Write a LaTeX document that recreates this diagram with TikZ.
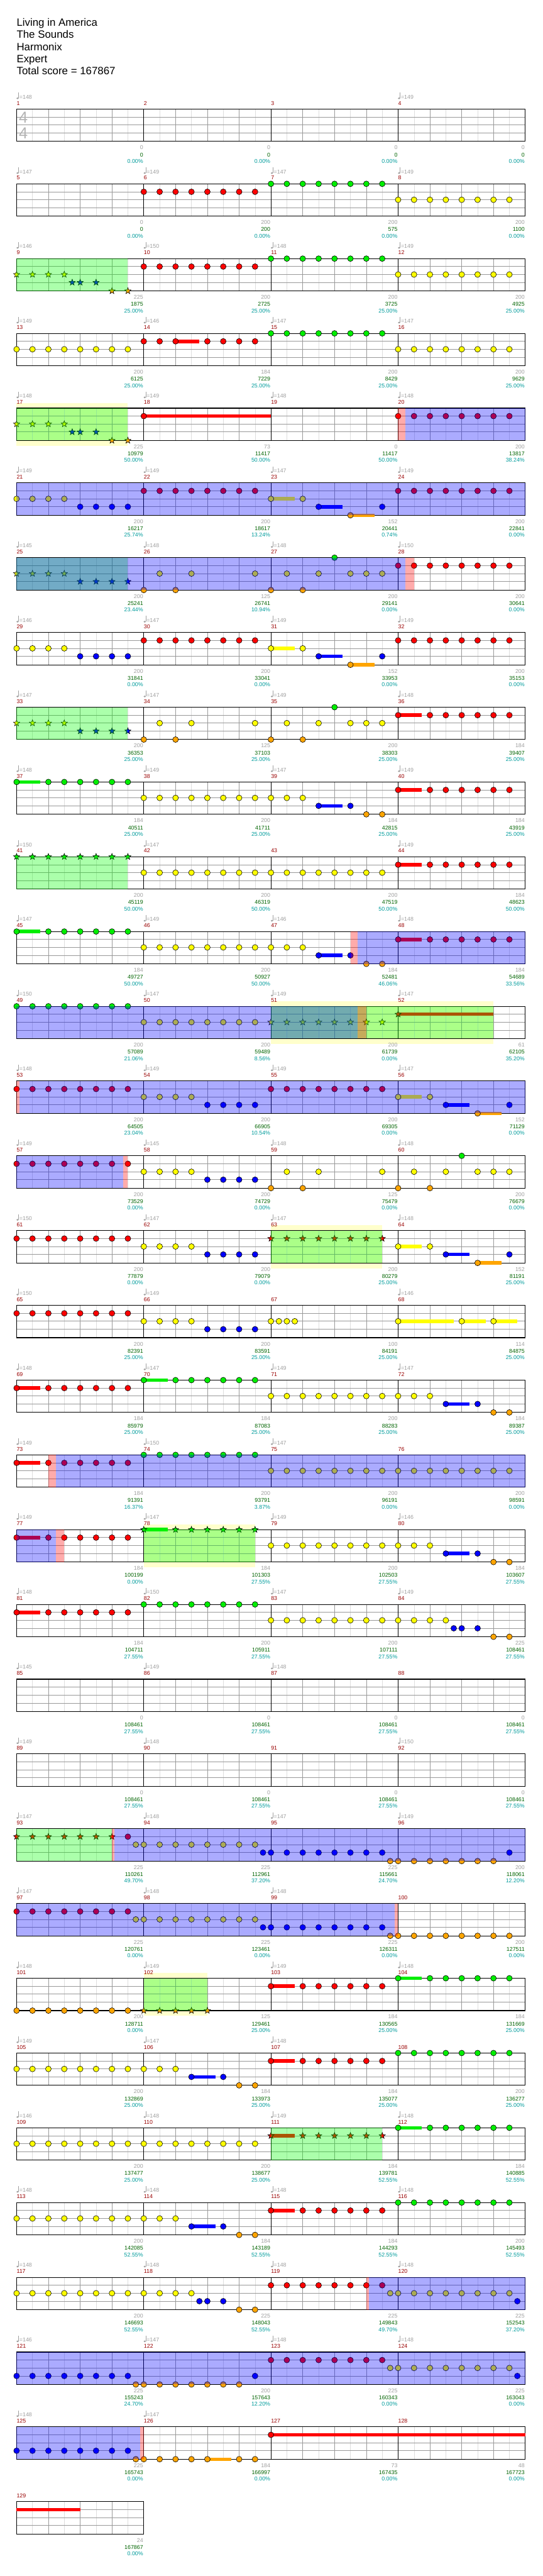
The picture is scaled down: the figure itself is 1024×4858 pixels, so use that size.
\documentclass[tikz,border=0pt]{standalone}
\usepackage{fontspec}
\setmainfont{Liberation Sans}
\usetikzlibrary{positioning}
\definecolor{gemgreen}{HTML}{00EE00}
\definecolor{gemred}{HTML}{FF0000}
\definecolor{gemyellow}{HTML}{FFFF00}
\definecolor{gemblue}{HTML}{0000FF}
\definecolor{gemorange}{HTML}{FFA500}
\definecolor{barnum}{HTML}{990000}
\definecolor{labgray}{HTML}{A0A0A0}
\definecolor{scoregreen}{HTML}{006400}
\definecolor{pctcyan}{HTML}{009C9C}
\definecolor{spyellow}{HTML}{FFFFCC}
\definecolor{gridlt}{HTML}{DDDDDD}
\definecolor{gridmd}{HTML}{999999}
\definecolor{tsgray}{HTML}{B4B4B4}

\tikzset{
  gem/.style={draw=black, line width=0.7pt},
  gridlight/.style={draw=gridlt, line width=0.6pt},
  gridbeat/.style={draw=gridmd, line width=0.8pt},
  staffline/.style={draw=gridmd, line width=1pt},
  barline/.style={draw=black, line width=0.8pt},
  staffbox/.style={draw=black, line width=1.3pt},
  odzone/.style={fill=blue, fill opacity=0.33},
  spzone/.style={fill=green, fill opacity=0.33},
  hitzone/.style={fill=red, fill opacity=0.33},
  spband/.style={fill=spyellow},
  lbl/.style={font=\fontsize{10.5}{12}\selectfont, inner sep=0pt},
  headline/.style={font=\fontsize{20}{24}\selectfont, inner sep=0pt, anchor=base west},
}

% measure origin: \mx left edge, \my staff top
\newcommand{\setmeas}[1]{%
  \pgfmathtruncatemacro\mr{div(#1-1,4)}%
  \pgfmathtruncatemacro\mc{mod(#1-1,4)}%
  \pgfmathsetmacro\mx{31.3+240*\mc}%
  \pgfmathsetmacro\my{205.7+141*\mr}}
\newcommand{\setlane}[1]{\edef\lc{\ifcase\numexpr#1\relax gemgreen\or gemred\or gemyellow\or gemblue\or gemorange\fi}}
\newcommand{\drawstar}[2]{\draw[gem, fill=\lc] (#1,#2) +(-90:6.2) -- +(-54:2.6) -- +(-18:6.2) -- +(18:2.6) -- +(54:6.2) -- +(90:2.6) -- +(126:6.2) -- +(162:2.6) -- +(198:6.2) -- +(234:2.6) -- cycle;}

% single gems: measure, {pos/lane/sustain,...}
\newcommand{\gemlist}[2]{%
  \setmeas{#1}%
  \foreach \p/\l/\s in {#2}{%
    \setlane{\l}%
    \pgfmathsetmacro\gx{\mx+30*\p}%
    \pgfmathsetmacro\gy{\my+15*\l+(\l>3)}%
    \ifdim\s pt>0pt \fill[\lc] (\gx,\gy-3.3) rectangle ++(30*\s,6.6);\fi
    \draw[gem, fill=\lc] (\gx,\gy) circle [radius=5.4];
  }}
\newcommand{\starlist}[2]{%
  \setmeas{#1}%
  \foreach \p/\l/\s in {#2}{%
    \setlane{\l}%
    \pgfmathsetmacro\gx{\mx+30*\p}%
    \pgfmathsetmacro\gy{\my+15*\l+(\l>3)}%
    \ifdim\s pt>0pt \fill[\lc] (\gx,\gy-3.3) rectangle ++(30*\s,6.6);\fi
    \drawstar{\gx}{\gy}
  }}
% runs of eighths: measure, lane, first, last
\newcommand{\gemrun}[4]{%
  \setmeas{#1}\setlane{#2}%
  \foreach \p in {#3,...,#4}{%
    \pgfmathsetmacro\gx{\mx+30*\p}%
    \pgfmathsetmacro\gy{\my+15*#2+(#2>3)}%
    \draw[gem, fill=\lc] (\gx,\gy) circle [radius=5.4];
  }}
\newcommand{\starrun}[4]{%
  \setmeas{#1}\setlane{#2}%
  \foreach \p in {#3,...,#4}{%
    \pgfmathsetmacro\gx{\mx+30*\p}%
    \pgfmathsetmacro\gy{\my+15*#2+(#2>3)}%
    \drawstar{\gx}{\gy}
  }}
% staff row: row, number of measures
\newcommand{\staffrow}[2]{%
  \pgfmathsetmacro\sy{205.7+141*#1}%
  \pgfmathsetmacro\sx{31.3+240*#2}%
  \pgfmathtruncatemacro\nk{8*#2-1}%
  \pgfmathtruncatemacro\nb{4*#2-1}%
  \foreach \k in {1,...,\nk} \draw[gridlight] (31.3+30*\k,\sy) -- ++(0,61);
  \foreach \k in {1,...,\nb} \draw[gridbeat] (31.3+60*\k,\sy) -- ++(0,61);
  \foreach \k in {15,30,45} \draw[staffline] (31.3,\sy+\k) -- (\sx,\sy+\k);
  \ifnum#2>1 \foreach \k in {2,...,#2} \draw[barline] (31.3+240*\k-240,\sy) -- ++(0,61);\fi
  \draw[staffbox] (31.3,\sy) rectangle (\sx,\sy+61);}
\newcommand{\zone}[4]{\pgfmathsetmacro\zy{205.7+141*#1}\fill[#4] (#2,\zy) rectangle (#3,\zy+61);}
\newcommand{\bandrow}[3]{\pgfmathsetmacro\zy{205.7+141*#1}\fill[spband] (#2,\zy-10) rectangle (#3,\zy+71);}

\begin{document}
\begin{tikzpicture}[x=1pt, y=-1pt, line cap=butt]
\useasboundingbox[fill=white] (0,0) rectangle (1024,4858);

% Title block
\node[headline] (song) at (31.3,49) {Living in America};
\node[headline] (band) at (31.3,72) {The Sounds};
\node[headline] (studio) at (31.3,95) {Harmonix};
\node[headline] (level) at (31.3,118) {Expert};
\node[headline] (total) at (31.3,141) {Total score = 167867};

% Star power bands behind the staff
\bandrow{4}{31.3}{241.3}
\bandrow{12}{511.3}{931.3}
\bandrow{15}{511.3}{721.3}
\bandrow{19}{271.3}{481.3}
\bandrow{25}{271.3}{391.3}

% Staff rows
\foreach \r in {0,...,31} {\staffrow{\r}{4}}
\staffrow{32}{1}

% Time signature
\node[font=\fontsize{30}{30}\selectfont, text=tsgray, inner sep=0pt] (tsup) at (44,221.7) {4};
\node[font=\fontsize{30}{30}\selectfont, text=tsgray, inner sep=0pt] (tsdown) at (44,250.7) {4};

% Gems (lanes: 0 green, 1 red, 2 yellow, 3 blue, 4 orange)
\gemrun{6}{1}{0}{7} \gemrun{7}{0}{0}{7} \gemrun{8}{2}{0}{7}
\starrun{9}{2}{0}{3} \starlist{9}{3.5/3/0,4/3/0,5/3/0,6/4/0,7/4/0}
\gemrun{10}{1}{0}{7} \gemrun{11}{0}{0}{7} \gemrun{12}{2}{0}{7}
\gemrun{13}{2}{0}{7}
\gemlist{14}{0/1/0,1/1/0,2/1/1.5,4/1/0,5/1/0,6/1/0,7/1/0}
\gemrun{15}{0}{0}{7} \gemrun{16}{2}{0}{7}
\starrun{17}{2}{0}{3} \starlist{17}{3.5/3/0,4/3/0,5/3/0,6/4/0,7/4/0}
\gemlist{18}{0/1/8}
\gemrun{20}{1}{0}{7}
\gemrun{21}{2}{0}{3} \gemrun{21}{3}{4}{7}
\gemrun{22}{1}{0}{7}
\gemlist{23}{0/2/1.5,2/2/0,3/3/1.5,5/4/1.5,7/3/0}
\gemrun{24}{1}{0}{7}
\starrun{25}{2}{0}{3} \starrun{25}{3}{4}{7}
\gemlist{26}{0/4/0,1/2/0,2/4/0,3/2/0,7/2/0}
\gemlist{27}{0/4/0,1/2/0,2/4/0,3/2/0,4/0/0,5/2/0,6/2/0,7/2/0}
\gemrun{28}{1}{0}{7}
\gemrun{29}{2}{0}{3} \gemrun{29}{3}{4}{7}
\gemrun{30}{1}{0}{7}
\gemlist{31}{0/2/1.5,2/2/0,3/3/1.5,5/4/1.5,7/3/0}
\gemrun{32}{1}{0}{7}
\starrun{33}{2}{0}{3} \starrun{33}{3}{4}{7}
\gemlist{34}{0/4/0,1/2/0,2/4/0,3/2/0,7/2/0}
\gemlist{35}{0/4/0,1/2/0,2/4/0,3/2/0,4/0/0,5/2/0,6/2/0,7/2/0}
\gemlist{36}{0/1/1.5} \gemrun{36}{1}{2}{7}
\gemlist{37}{0/0/1.5} \gemrun{37}{0}{2}{7}
\gemrun{38}{2}{0}{7}
\gemlist{39}{0/2/0,1/2/0,2/2/0,3/3/1.5,5/3/0,6/4/0,7/4/0}
\gemlist{40}{0/1/1.5} \gemrun{40}{1}{2}{7}
\starrun{41}{0}{0}{7}
\gemrun{42}{2}{0}{7} \gemrun{43}{2}{0}{7}
\gemlist{44}{0/1/1.5} \gemrun{44}{1}{2}{7}
\gemlist{45}{0/0/1.5} \gemrun{45}{0}{2}{7}
\gemrun{46}{2}{0}{7}
\gemlist{47}{0/2/0,1/2/0,2/2/0,3/3/1.5,5/3/0,6/4/0,7/4/0}
\gemlist{48}{0/1/1.5} \gemrun{48}{1}{2}{7}
\gemrun{49}{0}{0}{7} \gemrun{50}{2}{0}{7}
\starrun{51}{2}{0}{7} \starlist{52}{0/1/6}
\gemrun{53}{1}{0}{7}
\gemrun{54}{2}{0}{3} \gemrun{54}{3}{4}{7}
\gemrun{55}{1}{0}{7}
\gemlist{56}{0/2/1.5,2/2/0,3/3/1.5,5/4/1.5,7/3/0}
\gemrun{57}{1}{0}{7}
\gemrun{58}{2}{0}{3} \gemrun{58}{3}{4}{7}
\gemlist{59}{0/4/0,1/2/0,2/4/0,3/2/0,7/2/0}
\gemlist{60}{0/4/0,1/2/0,2/4/0,3/2/0,4/0/0,5/2/0,6/2/0,7/2/0}
\gemrun{61}{1}{0}{7}
\gemrun{62}{2}{0}{3} \gemrun{62}{3}{4}{7}
\starrun{63}{1}{0}{7}
\gemlist{64}{0/2/1.5,2/2/0,3/3/1.5,5/4/1.5,7/3/0}
\gemrun{65}{1}{0}{7}
\gemrun{66}{2}{0}{3} \gemrun{66}{3}{4}{7}
\gemlist{67}{0/2/0,0.5/2/0,1/2/0,1.5/2/0}
\gemlist{68}{0/2/3.5,4/2/1.5,6/2/1.5}
\gemlist{69}{0/1/1.5} \gemrun{69}{1}{2}{7}
\gemlist{70}{0/0/1.5} \gemrun{70}{0}{2}{7}
\gemrun{71}{2}{0}{7}
\gemlist{72}{0/2/0,1/2/0,2/2/0,3/3/1.5,5/3/0,6/4/0,7/4/0}
\gemlist{73}{0/1/1.5} \gemrun{73}{1}{2}{7}
\gemrun{74}{0}{0}{7} \gemrun{75}{2}{0}{7} \gemrun{76}{2}{0}{7}
\gemlist{77}{0/1/1.5} \gemrun{77}{1}{2}{7}
\starlist{78}{0/0/1.5} \starrun{78}{0}{2}{7}
\gemrun{79}{2}{0}{7}
\gemlist{80}{0/2/0,1/2/0,2/2/0,3/3/1.5,5/3/0,6/4/0,7/4/0}
\gemlist{81}{0/1/1.5} \gemrun{81}{1}{2}{7}
\gemrun{82}{0}{0}{7} \gemrun{83}{2}{0}{7}
\gemlist{84}{0/2/0,1/2/0,2/2/0,3/2/0,3.5/3/0,4/3/0,5/3/0,6/4/0,7/4/0}
\starrun{93}{1}{0}{6} \gemlist{93}{7/1/0,7.5/2/0}
\gemrun{94}{2}{0}{7} \gemlist{94}{7.5/3/0}
\gemrun{95}{3}{0}{7} \gemlist{95}{7.5/4/0}
\gemrun{96}{4}{0}{6} \gemlist{96}{7/3/0}
\gemrun{97}{1}{0}{7} \gemlist{97}{7.5/2/0}
\gemrun{98}{2}{0}{7} \gemlist{98}{7.5/3/0}
\gemrun{99}{3}{0}{7} \gemlist{99}{7.5/4/0}
\gemrun{100}{4}{0}{7}
\gemrun{101}{4}{0}{7}
\starrun{102}{4}{0}{4}
\gemlist{103}{0/1/1.5} \gemrun{103}{1}{2}{7}
\gemlist{104}{0/0/1.5} \gemrun{104}{0}{2}{7}
\gemrun{105}{2}{0}{7}
\gemlist{106}{0/2/0,1/2/0,2/2/0,3/3/1.5,5/3/0,6/4/0,7/4/0}
\gemlist{107}{0/1/1.5} \gemrun{107}{1}{2}{7}
\gemrun{108}{0}{0}{7}
\gemrun{109}{2}{0}{7} \gemrun{110}{2}{0}{7}
\starlist{111}{0/1/1.5} \starrun{111}{1}{2}{7}
\gemlist{112}{0/0/1.5} \gemrun{112}{0}{2}{7}
\gemrun{113}{2}{0}{7}
\gemlist{114}{0/2/0,1/2/0,2/2/0,3/3/1.5,5/3/0,6/4/0,7/4/0}
\gemlist{115}{0/1/1.5} \gemrun{115}{1}{2}{7}
\gemrun{116}{0}{0}{7}
\gemrun{117}{2}{0}{7}
\gemlist{118}{0/2/0,1/2/0,2/2/0,3/2/0,3.5/3/0,4/3/0,5/3/0,6/4/0,7/4/0}
\gemrun{119}{1}{0}{7} \gemlist{119}{7.5/2/0}
\gemrun{120}{2}{0}{7} \gemlist{120}{7.5/3/0}
\gemrun{121}{3}{0}{7} \gemlist{121}{7.5/4/0}
\gemrun{122}{4}{0}{6} \gemlist{122}{7/3/0}
\gemrun{123}{1}{0}{7} \gemlist{123}{7.5/2/0}
\gemrun{124}{2}{0}{7} \gemlist{124}{7.5/3/0}
\gemrun{125}{3}{0}{7} \gemlist{125}{7.5/4/0}
\gemlist{126}{0/4/0,1/4/0,2/4/0,3/4/0,4/4/1.5,6/4/0,7/4/0}
\gemlist{127}{0/1/16}
\fill[gemred] (31.3,4729.4) rectangle ++(120,6.6);

% Star power and overdrive zones
\zone{2}{31.3}{241.3}{spzone}
\zone{4}{31.3}{241.3}{spzone}
\zone{6}{31.3}{241.3}{spzone}
\zone{8}{31.3}{241.3}{spzone}
\zone{10}{31.3}{241.3}{spzone}
\zone{12}{511.3}{931.3}{spzone}
\zone{15}{511.3}{721.3}{spzone}
\zone{19}{271.3}{481.3}{spzone}
\zone{23}{31.3}{211.3}{spzone}
\zone{25}{271.3}{391.3}{spzone}
\zone{27}{511.3}{721.3}{spzone}
\zone{4}{765}{991.3}{odzone}
\zone{5}{31.3}{991.3}{odzone}
\zone{6}{31.3}{765}{odzone}
\zone{11}{675}{991.3}{odzone}
\zone{12}{31.3}{675}{odzone}
\zone{13}{37}{991.3}{odzone}
\zone{14}{31.3}{233}{odzone}
\zone{18}{105}{991.3}{odzone}
\zone{19}{31.3}{105}{odzone}
\zone{23}{216}{991.3}{odzone}
\zone{24}{31.3}{745}{odzone}
\zone{29}{696}{991.3}{odzone}
\zone{30}{31.3}{991.3}{odzone}
\zone{31}{31.3}{265}{odzone}
\zone{4}{751.3}{765}{hitzone}
\zone{6}{765}{781.3}{hitzone}
\zone{11}{661.3}{675}{hitzone}
\zone{12}{675}{691.3}{hitzone}
\zone{13}{31.3}{37}{hitzone}
\zone{14}{233}{241.3}{hitzone}
\zone{18}{91.3}{105}{hitzone}
\zone{19}{105}{121.3}{hitzone}
\zone{23}{211.3}{216}{hitzone}
\zone{24}{745}{751.3}{hitzone}
\zone{29}{691.3}{696}{hitzone}
\zone{31}{265}{271.3}{hitzone}

% Measure numbers
\foreach \m in {1,...,129}{%
  \setmeas{\m}%
  \node[lbl, text=barnum, anchor=base west] (bar\m) at (\mx,\my-7.5) {\m};
}

% Tempo marks
\foreach \m/\v in {1/148,4/149,5/147,6/149,7/147,8/149,9/146,10/150,11/148,12/149,
  13/149,14/146,15/147,16/147,17/148,18/149,19/148,20/148,21/149,22/149,23/147,24/149,
  25/145,26/148,27/148,28/150,29/146,30/147,31/149,32/149,33/147,34/147,35/149,36/148,
  37/148,38/149,39/147,40/149,41/150,42/147,44/149,45/147,46/149,47/146,48/148,
  49/150,50/147,51/149,52/147,53/148,54/149,55/149,56/147,57/149,58/145,59/148,60/148,
  61/150,62/147,63/147,64/148,65/150,66/149,68/146,69/148,70/147,71/149,72/147,
  73/149,74/150,75/147,77/149,78/147,79/149,80/146,81/148,82/150,83/147,84/149,
  85/145,86/149,87/148,89/149,90/148,92/150,93/147,94/148,95/147,96/149,
  97/147,98/148,99/148,101/148,102/149,103/149,104/148,105/149,106/147,107/148,
  109/146,110/148,111/149,112/148,113/148,114/148,115/148,116/148,
  117/148,118/148,119/148,120/148,121/146,122/147,123/148,124/148,125/148,126/147}{%
  \setmeas{\m}%
  \fill[labgray] (\mx+1.8,\my-20.3) ellipse [x radius=2.2, y radius=1.7];
  \draw[labgray, line width=0.8pt] (\mx+3.7,\my-20.6) -- (\mx+3.7,\my-31);
  \node[lbl, text=labgray, anchor=base west] (bpm\m) at (\mx+5.2,\my-19.3) {=\v};
}

% Scores under each measure
\foreach \m/\va/\vb/\vc in {1/0/0/0.00,2/0/0/0.00,3/0/0/0.00,4/0/0/0.00,
  5/0/0/0.00,6/200/200/0.00,7/200/575/0.00,8/200/1100/0.00,
  9/225/1875/25.00,10/200/2725/25.00,11/200/3725/25.00,12/200/4925/25.00,
  13/200/6125/25.00,14/184/7229/25.00,15/200/8429/25.00,16/200/9629/25.00,
  17/225/10979/50.00,18/73/11417/50.00,19/0/11417/50.00,20/200/13817/38.24,
  21/200/16217/25.74,22/200/18617/13.24,23/152/20441/0.74,24/200/22841/0.00,
  25/200/25241/23.44,26/125/26741/10.94,27/200/29141/0.00,28/200/30641/0.00,
  29/200/31841/0.00,30/200/33041/0.00,31/152/33953/0.00,32/200/35153/0.00,
  33/200/36353/25.00,34/125/37103/25.00,35/200/38303/25.00,36/184/39407/25.00,
  37/184/40511/25.00,38/200/41711/25.00,39/184/42815/25.00,40/184/43919/25.00,
  41/200/45119/50.00,42/200/46319/50.00,43/200/47519/50.00,44/184/48623/50.00,
  45/184/49727/50.00,46/200/50927/50.00,47/184/52481/46.06,48/184/54689/33.56,
  49/200/57089/21.06,50/200/59489/8.56,51/200/61739/0.00,52/61/62105/35.20,
  53/200/64505/23.04,54/200/66905/10.54,55/200/69305/0.00,56/152/71129/0.00,
  57/200/73529/0.00,58/200/74729/0.00,59/125/75479/0.00,60/200/76679/0.00,
  61/200/77879/0.00,62/200/79079/0.00,63/200/80279/25.00,64/152/81191/25.00,
  65/200/82391/25.00,66/200/83591/25.00,67/100/84191/25.00,68/114/84875/25.00,
  69/184/85979/25.00,70/184/87083/25.00,71/200/88283/25.00,72/184/89387/25.00,
  73/184/91391/16.37,74/200/93791/3.87,75/200/96191/0.00,76/200/98591/0.00,
  77/184/100199/0.00,78/184/101303/27.55,79/200/102503/27.55,80/184/103607/27.55,
  81/184/104711/27.55,82/200/105911/27.55,83/200/107111/27.55,84/225/108461/27.55,
  85/0/108461/27.55,86/0/108461/27.55,87/0/108461/27.55,88/0/108461/27.55,
  89/0/108461/27.55,90/0/108461/27.55,91/0/108461/27.55,92/0/108461/27.55,
  93/225/110261/49.70,94/225/112961/37.20,95/225/115661/24.70,96/200/118061/12.20,
  97/225/120761/0.00,98/225/123461/0.00,99/225/126311/0.00,100/200/127511/0.00,
  101/200/128711/0.00,102/125/129461/25.00,103/184/130565/25.00,104/184/131669/25.00,
  105/200/132869/25.00,106/184/133973/25.00,107/184/135077/25.00,108/200/136277/25.00,
  109/200/137477/25.00,110/200/138677/25.00,111/184/139781/52.55,112/184/140885/52.55,
  113/200/142085/52.55,114/184/143189/52.55,115/184/144293/52.55,116/200/145493/52.55,
  117/200/146693/52.55,118/225/148043/52.55,119/225/149843/49.70,120/225/152543/37.20,
  121/225/155243/24.70,122/200/157643/12.20,123/225/160343/0.00,124/225/163043/0.00,
  125/225/165743/0.00,126/184/166997/0.00,127/73/167435/0.00,128/48/167723/0.00,
  129/24/167867/0.00}{%
  \setmeas{\m}%
  \pgfmathsetmacro\ex{\mx+239}%
  \node[lbl, text=labgray, anchor=base east] (base\m) at (\ex,\my+76.4) {\va};
  \node[lbl, text=scoregreen, anchor=base east] (tot\m) at (\ex,\my+89.7) {\vb};
  \node[lbl, text=pctcyan, anchor=base east] (pct\m) at (\ex,\my+102) {\vc\%};
}
\end{tikzpicture}
\end{document}
